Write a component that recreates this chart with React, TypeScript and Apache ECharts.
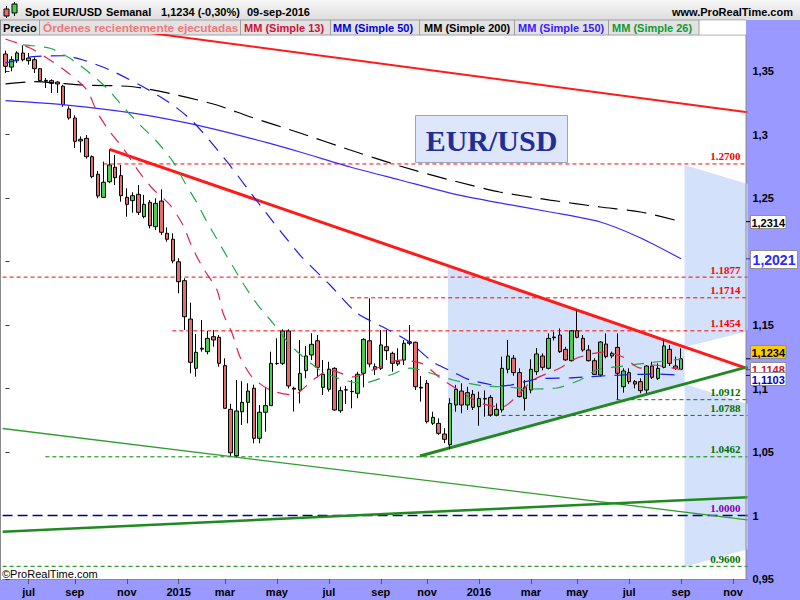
import React, { useEffect, useRef } from 'react';
import * as echarts from 'echarts';

// ---------- DATA ----------
const FIRST_MONDAY = Date.UTC(2014, 5, 9); // weekly bars dated by Monday
const WEEK_COUNT = 129; // visible weekly slots (incl. empty future)
const monthShort = ['ene', 'feb', 'mar', 'abr', 'may', 'jun', 'jul', 'ago', 'sep', 'oct', 'nov', 'dic'];
const yTicks = { min: 0.95, max: 1.37835, step: 0.05 };
const hiddenYLabels = [1.2]; // covered by the 1,2021 tag in the original

// [open, close, low, high]
const candles: number[][] = [
  [1.3634, 1.3537, 1.3484, 1.3660], [1.3531, 1.3589, 1.3498, 1.3616], [1.3581, 1.3642, 1.3563, 1.3655],
  [1.3642, 1.3589, 1.3576, 1.3702], [1.3581, 1.3602, 1.3550, 1.3642], [1.3589, 1.3518, 1.3484, 1.3608],
  [1.3518, 1.3424, 1.3419, 1.3524], [1.3426, 1.3420, 1.3366, 1.3445], [1.3424, 1.3403, 1.3327, 1.3435],
  [1.3413, 1.3398, 1.3327, 1.3419], [1.3380, 1.3235, 1.3217, 1.3392], [1.3201, 1.3130, 1.3117, 1.3222],
  [1.3130, 1.2946, 1.2894, 1.3151], [1.2949, 1.2962, 1.2858, 1.2985], [1.2970, 1.2825, 1.2810, 1.2996],
  [1.2825, 1.2668, 1.2655, 1.2835], [1.2687, 1.2516, 1.2498, 1.2713], [1.2505, 1.2624, 1.2501, 1.2786],
  [1.2628, 1.2760, 1.2616, 1.2883], [1.2742, 1.2660, 1.2602, 1.2839], [1.2676, 1.2518, 1.2471, 1.2760],
  [1.2505, 1.2450, 1.2353, 1.2576], [1.2479, 1.2518, 1.2384, 1.2545], [1.2529, 1.2387, 1.2366, 1.2602],
  [1.2353, 1.2450, 1.2340, 1.2524], [1.2466, 1.2282, 1.2261, 1.2484], [1.2274, 1.2458, 1.2248, 1.2498],
  [1.2476, 1.2230, 1.2209, 1.2569], [1.2222, 1.2175, 1.2156, 1.2269], [1.2175, 1.2004, 1.1986, 1.2222],
  [1.1998, 1.1841, 1.1750, 1.2025], [1.1849, 1.1565, 1.1461, 1.1868], [1.1547, 1.1206, 1.1119, 1.1676],
  [1.1159, 1.1285, 1.1093, 1.1429], [1.1310, 1.1317, 1.1290, 1.1539], [1.1290, 1.1395, 1.1269, 1.1453],
  [1.1408, 1.1382, 1.1329, 1.1461], [1.1403, 1.1198, 1.1172, 1.1421], [1.1180, 1.0844, 1.0840, 1.1238],
  [1.0836, 1.0494, 1.0468, 1.0880], [1.0471, 1.0823, 1.0463, 1.1067], [1.0817, 1.0891, 1.0713, 1.1057],
  [1.0891, 1.0980, 1.0726, 1.1041], [1.1002, 1.0608, 1.0569, 1.1030], [1.0608, 1.0813, 1.0569, 1.0870],
  [1.0813, 1.0865, 1.0660, 1.1002], [1.0865, 1.1198, 1.0862, 1.1290], [1.1198, 1.1196, 1.1185, 1.1395],
  [1.1198, 1.1453, 1.1185, 1.1466], [1.1453, 1.1020, 1.1000, 1.1466], [1.1002, 1.0995, 1.0818, 1.1014],
  [1.0988, 1.1119, 1.0883, 1.1382], [1.1141, 1.1256, 1.1080, 1.1335], [1.1264, 1.1348, 1.1224, 1.1435],
  [1.1376, 1.1167, 1.1088, 1.1421], [1.1009, 1.1112, 1.0949, 1.1224], [1.0994, 1.1152, 1.0975, 1.1211],
  [1.1159, 1.0831, 1.0825, 1.1167], [1.0825, 1.0983, 1.0809, 1.1014], [1.0990, 1.0988, 1.0878, 1.1020],
  [1.0977, 1.0975, 1.0844, 1.1067], [1.0962, 1.1112, 1.0923, 1.1132], [1.1120, 1.1387, 1.1009, 1.1395],
  [1.1376, 1.1193, 1.1167, 1.1710], [1.1172, 1.1151, 1.1106, 1.1198], [1.1159, 1.1343, 1.1146, 1.1461],
  [1.1329, 1.1298, 1.1224, 1.1461], [1.1277, 1.1198, 1.1132, 1.1290], [1.1193, 1.1214, 1.1177, 1.1317],
  [1.1224, 1.1356, 1.1185, 1.1382], [1.1368, 1.1356, 1.1340, 1.1500], [1.1364, 1.1014, 1.0988, 1.1368],
  [1.1010, 1.1004, 1.0896, 1.1098], [1.1041, 1.0739, 1.0725, 1.1067], [1.0726, 1.0773, 1.0713, 1.0817],
  [1.0726, 1.0647, 1.0635, 1.0765], [1.0642, 1.0600, 1.0570, 1.0687], [1.0558, 1.0882, 1.0524, 1.0923],
  [1.0870, 1.0994, 1.0817, 1.1028], [1.0980, 1.0870, 1.0805, 1.1041], [1.0870, 1.0967, 1.0831, 1.1014],
  [1.0954, 1.0852, 1.0831, 1.0988], [1.0857, 1.0922, 1.0707, 1.0975], [1.0922, 1.0917, 1.0778, 1.0985],
  [1.0930, 1.0791, 1.0778, 1.0948], [1.0791, 1.0836, 1.0781, 1.0883], [1.0831, 1.1159, 1.0810, 1.1251],
  [1.1151, 1.1256, 1.1120, 1.1383], [1.1238, 1.1125, 1.1100, 1.1264], [1.1125, 1.0936, 1.0930, 1.1159],
  [1.0922, 1.1009, 1.0826, 1.1067], [1.0988, 1.1151, 1.0962, 1.1230], [1.1133, 1.1272, 1.1106, 1.1318],
  [1.1256, 1.1167, 1.1144, 1.1277], [1.1159, 1.1395, 1.1151, 1.1434], [1.1405, 1.1400, 1.1378, 1.1447],
  [1.1421, 1.1290, 1.1280, 1.1473], [1.1308, 1.1225, 1.1219, 1.1329], [1.1219, 1.1455, 1.1213, 1.1460],
  [1.1455, 1.1403, 1.1395, 1.1613], [1.1395, 1.1303, 1.1290, 1.1421], [1.1303, 1.1219, 1.1213, 1.1342],
  [1.1219, 1.1111, 1.1106, 1.1238], [1.1106, 1.1366, 1.1093, 1.1374], [1.1350, 1.1251, 1.1238, 1.1434],
  [1.1256, 1.1277, 1.1238, 1.1290], [1.1324, 1.1120, 1.0914, 1.1434], [1.1014, 1.1138, 1.0967, 1.1159],
  [1.1125, 1.1054, 1.1035, 1.1159], [1.1054, 1.1035, 1.1001, 1.1067], [1.1054, 1.0983, 1.0962, 1.1080],
  [1.0988, 1.1177, 1.0962, 1.1185], [1.1177, 1.1088, 1.1075, 1.1211], [1.1080, 1.1159, 1.1067, 1.1198],
  [1.1167, 1.1335, 1.1159, 1.1383], [1.1308, 1.1198, 1.1177, 1.1342], [1.1177, 1.1159, 1.1146, 1.1251],
  [1.1151, 1.1234, 1.1146, 1.1316],
];

// moving averages: [week index, value]
const ma13: number[][] = [
  [0, 1.3752], [4.25, 1.3681], [7.71, 1.3587], [10.65, 1.3492], [14.12, 1.335], [15.85, 1.3177], [18.1, 1.302],
  [20.35, 1.2894], [22.78, 1.2728], [25.37, 1.2579], [28.49, 1.2445], [30.74, 1.2287], [32.3, 1.2114],
  [34.21, 1.1949], [36.63, 1.1776], [37.67, 1.1594], [39.23, 1.1437], [40.62, 1.1248], [42.69, 1.1091],
  [45.81, 1.0988], [49.79, 1.0949], [53.26, 1.1067], [56.2, 1.1146], [60.18, 1.1091], [64.34, 1.1161],
  [68.33, 1.1224], [72.31, 1.1193], [75.25, 1.1083], [79.24, 1.0965], [82.18, 1.0886], [85.99, 1.0854],
  [89.11, 1.0965], [91.36, 1.1067], [96.04, 1.1161], [98.98, 1.124], [103.49, 1.1287], [106.95, 1.1248],
  [109.89, 1.1161], [112.14, 1.1185], [115.6, 1.1161], [117, 1.1148],
];
const ma26: number[][] = [
  [3.03, 1.3705], [7.71, 1.3679], [11.17, 1.36], [14.64, 1.3482], [17.58, 1.3364], [20.35, 1.3219],
  [23.3, 1.3075], [26.24, 1.2943], [29.01, 1.2786], [31.09, 1.2618], [33.17, 1.2461], [34.9, 1.2311],
  [41.1, 1.1831], [43.7, 1.1657], [46.3, 1.1516], [49.3, 1.1343], [52.2, 1.1224], [55, 1.113],
  [58.5, 1.1067], [61.9, 1.1043], [66.6, 1.1106], [70.1, 1.1161], [74.7, 1.1106], [77.5, 1.1067],
  [82.7, 1.102], [86.9, 1.1012], [90.8, 1.0996], [95.5, 1.1004], [99.5, 1.1067], [102.4, 1.1146],
  [107, 1.1177], [111.1, 1.1201], [115.6, 1.1224], [117, 1.1232],
];
const ma50: number[][] = [
  [0, 1.3563], [4.77, 1.3613], [9.96, 1.362], [13.42, 1.3587], [18.1, 1.3508], [23.82, 1.3376],
  [28.49, 1.3248], [32.47, 1.3101], [38.36, 1.2786], [41.83, 1.2579], [45.81, 1.2343], [51.01, 1.2051],
  [56.2, 1.1815], [60.88, 1.1594], [65.38, 1.1484], [69.71, 1.1374], [74.04, 1.1209], [77.5, 1.113],
  [80.45, 1.1067], [86.16, 1.102], [92.05, 1.1075], [97.77, 1.1083], [102.96, 1.1098], [106.43, 1.1106],
  [112.14, 1.1114], [116.3, 1.1106], [117, 1.1103],
];
const ma150: number[][] = [
  [0, 1.3266], [10.65, 1.3232], [22.08, 1.3169], [31.4, 1.3091], [42.3, 1.2972], [51, 1.2862],
  [59.7, 1.2744], [68.3, 1.2642], [77, 1.2539], [85.6, 1.2461], [94.3, 1.239], [103, 1.2311],
  [110, 1.2185], [117, 1.2021],
];
const ma200: number[][] = [
  [0, 1.3398], [4.77, 1.3416], [13.42, 1.339], [22.08, 1.3376], [29.7, 1.3311], [36.6, 1.3232],
  [42.3, 1.314], [51, 1.3012], [59.7, 1.2878], [68.3, 1.2752], [77, 1.2642], [85.6, 1.2547],
  [94.3, 1.2484], [103, 1.2429], [110, 1.239], [117, 1.2314],
];

// trend lines: [week index, price] endpoints
const trendRedMain = [[18.05, 1.2883], [128.5, 1.1156]];
const trendRedTop = [[15, 1.386], [128.5, 1.3175]];
const trendGreenMain = [[71.78, 1.0469], [128.5, 1.117]];
const trendGreenThin = [[-0.5, 1.0685], [128.5, 0.9966]];
const trendGreenLow = [[-0.5, 0.9873], [128.5, 1.0144]];

// shaded zones (polygons, [week index, price])
const shadeTriangle = [[76.62, 1.1967], [117.6, 1.1326], [117.6, 1.1036], [76.62, 1.0529]];
const shadeUpper = [[117.6, 1.276], [128.5, 1.2611], [128.5, 1.1451], [117.6, 1.1326]];
const shadeLower = [[117.6, 1.1036], [128.5, 1.0878], [128.5, 0.9735], [117.6, 0.9594]];

// horizontal levels
const levelValues = [1.2768, 1.1877, 1.1714, 1.1454, 1.0912, 1.0788, 1.0462, 1.0, 0.96];
const levelStarts = [16.96, -0.5, 59.7, 28.9, 105.8, 83.5, 6.9, -0.5, -0.5];
const levelLabels = ['1.2700', '1.1877', '1.1714', '1.1454', '1.0912', '1.0788', '1.0462', '1.0000', '0.9600'];
const levelLineColors = ['#ff0000', '#ff0000', '#ff0000', '#ff0000', '#008000', '#008000', '#008000', '#000080', '#008000'];
const levelTextColors = ['#ff0000', '#ff0000', '#ff0000', '#ff0000', '#007000', '#007000', '#007000', '#8000b0', '#007000'];

// right axis tags
const tagValues = [1.2314, 1.2021, 1.1148, 1.1234, 1.1103];
const tagTextColors = ['#000000', '#2a2aff', '#cc1133', '#000000', '#0000cc'];
const tagFills = ['#ffffff', '#ffffff', '#ffffff', '#ffcc00', '#ffffff'];
const tagOffsets = [0, 0, -1, -7.5, 3.5];

const legendItems = ['Precio', 'Órdenes recientemente ejecutadas', 'MM (Simple 13)', 'MM (Simple 50)', 'MM (Simple 200)', 'MM (Simple 150)', 'MM (Simple 26)'];
const legendColors = ['#000000', '#f07878', '#d0103a', '#0000dd', '#000000', '#3a1aff', '#119933'];

// ---------- helpers ----------
const weekDates: string[] = Array.from({ length: WEEK_COUNT }, (_, i) =>
  new Date(FIRST_MONDAY + i * 7 * 86400000).toISOString().slice(0, 10)
);
const isLabelWeek = (idx: number) => {
  const d = new Date(weekDates[idx] + 'T00:00:00Z');
  return d.getUTCDate() <= 7 && d.getUTCMonth() % 2 === 0;
};
const SANS = '"Liberation Sans", Arial, sans-serif';
const SERIF = '"Liberation Serif", "Times New Roman", serif';

function buildOption(): any {
  const xVal = 1;
  const maLine = (name: string, data: number[][], color: string, dash: any, z: number) => ({
    name, type: 'line', xAxisIndex: xVal, yAxisIndex: 0, data, symbol: 'none', smooth: 0.25,
    lineStyle: { color, width: 1.2, type: dash }, z, silent: true, clip: true,
  });
  const trend = (data: number[][], color: string, width: number) => ({
    type: 'line', xAxisIndex: xVal, yAxisIndex: 0, data, symbol: 'none',
    lineStyle: { color, width }, z: 3, silent: true, clip: true,
  });
  const shades = [shadeTriangle, shadeUpper, shadeLower];
  return {
    animation: false,
    backgroundColor: '#ffffff',
    grid: { left: 2.6, right: 52.5, top: 35, bottom: 21, containLabel: false },
    xAxis: [
      {
        type: 'category', data: weekDates, boundaryGap: true, position: 'bottom',
        axisLine: { show: true, lineStyle: { color: '#8a8a8a' } },
        axisTick: { show: true, alignWithLabel: true, interval: (i: number) => isLabelWeek(i), length: 5, lineStyle: { color: '#555' } },
        axisLabel: {
          interval: (i: number) => isLabelWeek(i), margin: 7, color: '#000', fontWeight: 'bold', fontSize: 11, fontFamily: SANS,
          formatter: (v: string) => {
            const d = new Date(v + 'T00:00:00Z');
            return d.getUTCMonth() === 0 ? String(d.getUTCFullYear()) : monthShort[d.getUTCMonth()];
          },
        },
        splitLine: { show: false },
      },
      { type: 'value', min: -0.5, max: WEEK_COUNT - 0.5, show: false },
    ],
    yAxis: [{
      type: 'value', position: 'right', min: yTicks.min, max: yTicks.max, interval: yTicks.step, scale: true,
      axisLine: { show: false },
      axisTick: { show: true, length: 4, lineStyle: { color: '#333' } },
      splitLine: { show: false },
      axisLabel: {
        showMaxLabel: false, margin: 5, color: '#000', fontWeight: 'bold', fontSize: 11, fontFamily: SANS,
        formatter: (v: number) => {
          const r = Math.round(v * 100) / 100;
          if (hiddenYLabels.some((h) => Math.abs(h - r) < 1e-6)) return '';
          return r.toString().replace('.', ',');
        },
      },
    }],
    series: [
      {
        type: 'custom', xAxisIndex: xVal, yAxisIndex: 0, z: 1, silent: true, clip: true,
        data: shades.map((_, k) => [k, 1.1]),
        renderItem: (params: any, api: any) => {
          const poly = shades[api.value(0)];
          return { type: 'polygon', shape: { points: poly.map((p) => api.coord(p)) }, style: { fill: '#d3e1fa' } };
        },
      },
      {
        type: 'custom', xAxisIndex: xVal, yAxisIndex: 0, z: 2, silent: true,
        data: levelValues.map((v, k) => [levelStarts[k], v, k]),
        renderItem: (params: any, api: any) => {
          const k = api.value(2);
          const p0 = api.coord([api.value(0), api.value(1)]);
          const cs = params.coordSys;
          const xEnd = cs.x + cs.width;
          const navy = k === 7;
          return {
            type: 'group', children: [
              { type: 'line', shape: { x1: p0[0], y1: p0[1], x2: xEnd, y2: p0[1] },
                style: { stroke: levelLineColors[k], lineWidth: navy ? 1.4 : 1, lineDash: navy ? [10, 5] : [4, 3] } },
              { type: 'text', x: xEnd - 7, y: p0[1] - 2,
                style: { text: levelLabels[k], align: 'right', verticalAlign: 'bottom', fill: levelTextColors[k], font: `bold 11px ${SERIF}` } },
            ],
          };
        },
      },
      trend(trendGreenThin, '#2e9e2e', 1.3),
      trend(trendGreenLow, '#1f8a1f', 2.5),
      trend(trendRedTop, '#ff1a1a', 2),
      trend(trendRedMain, '#ff1a1a', 3),
      trend(trendGreenMain, '#228822', 3),
      {
        type: 'candlestick', xAxisIndex: 0, yAxisIndex: 0, data: candles, barWidth: 4, z: 4, silent: true,
        itemStyle: { color: '#4ccc4c', color0: '#e36d6d', borderColor: '#000', borderColor0: '#000', borderWidth: 1 },
      },
      maLine('MM 200', ma200, '#000000', [20, 9], 5),
      maLine('MM 150', ma150, '#3a2aff', 'solid', 5),
      maLine('MM 50', ma50, '#1a1aee', [14, 9], 5),
      maLine('MM 26', ma26, '#22aa44', [12, 9], 5),
      maLine('MM 13', ma13, '#dd2255', [12, 9], 5),
    ],
  };
}

function buildGraphic(chart: any): any[] {
  const yPix = (v: number) => chart.convertToPixel({ yAxisIndex: 0 }, v) as number;
  const els: any[] = [];
  // backgrounds
  els.push({ type: 'rect', z: -1, shape: { x: 0, y: 0, width: 800, height: 20 },
    style: { fill: { type: 'linear', x: 0, y: 0, x2: 0, y2: 1, colorStops: [{ offset: 0, color: '#f7f7f7' }, { offset: 1, color: '#dcdcdc' }] } } });
  els.push({ type: 'rect', z: -1, shape: { x: 0, y: 20, width: 746, height: 15 }, style: { fill: '#e2e2e2', stroke: '#a0a0a0', lineWidth: 1 } });
  els.push({ type: 'rect', z: -1, shape: { x: 699, y: 20.5, width: 47, height: 14 }, style: { fill: '#ffffff' } });
  els.push({ type: 'rect', z: -1, shape: { x: 746, y: 20, width: 54, height: 580 }, style: { fill: '#9999ff' } });
  els.push({ type: 'rect', z: -1, shape: { x: 0, y: 580, width: 800, height: 20 }, style: { fill: '#9999ff' } });
  els.push({ type: 'line', z: 10, shape: { x1: 0.5, y1: 20, x2: 0.5, y2: 580 }, style: { stroke: '#8a8a8a', lineWidth: 1 } });
  els.push({ type: 'line', z: 10, shape: { x1: 746, y1: 35, x2: 746, y2: 580 }, style: { stroke: '#8a8a8a', lineWidth: 1 } });
  // legend separators
  [39.5, 240.5, 330.5, 419.5, 514.5, 608.5, 699].forEach((x) =>
    els.push({ type: 'line', z: 10, shape: { x1: x, y1: 20, x2: x, y2: 35 }, style: { stroke: '#a0a0a0', lineWidth: 1 } }));
  const legendX = [3, 43, 244, 333, 424, 518, 612];
  legendItems.forEach((t, k) =>
    els.push({ type: 'text', z: 10, x: legendX[k], y: 28, style: { text: t, fill: legendColors[k], font: `bold ${k === 1 ? 11.8 : 11}px ${SANS}`, verticalAlign: 'middle' } }));
  // header icon
  els.push({ type: 'line', z: 10, shape: { x1: 6.5, y1: 6, x2: 6.5, y2: 18 }, style: { stroke: '#000', lineWidth: 1 } });
  els.push({ type: 'rect', z: 10, shape: { x: 4, y: 9, width: 5, height: 7 }, style: { fill: '#e36d6d', stroke: '#000', lineWidth: 1 } });
  els.push({ type: 'line', z: 10, shape: { x1: 14.5, y1: 2, x2: 14.5, y2: 16 }, style: { stroke: '#000', lineWidth: 1 } });
  els.push({ type: 'rect', z: 10, shape: { x: 12, y: 4, width: 5, height: 9 }, style: { fill: '#4ccc4c', stroke: '#000', lineWidth: 1 } });
  const hdr = [['Spot EUR/USD', 25], ['Semanal', 106], ['1,1234 (-0,30%)', 161], ['09-sep-2016', 247]];
  hdr.forEach(([t, x]) =>
    els.push({ type: 'text', z: 10, x, y: 11.5, style: { text: t, fill: '#000', font: `bold 11px ${SANS}`, verticalAlign: 'middle' } }));
  els.push({ type: 'text', z: 10, x: 793, y: 12, style: { text: 'www.ProRealTime.com', fill: '#000', font: `bold 11px ${SANS}`, align: 'right', verticalAlign: 'middle' } });
  // copyright
  els.push({ type: 'text', z: 10, x: 2, y: 574, style: { text: '©ProRealTime.com', fill: '#000', font: `11px ${SANS}`, verticalAlign: 'middle' } });
  // title box
  els.push({ type: 'rect', z: 10, shape: { x: 415.5, y: 115.5, width: 152, height: 47 }, style: { fill: '#dde6fb', stroke: '#9aa3c0', lineWidth: 1 } });
  els.push({ type: 'text', z: 11, x: 491.5, y: 140, style: { text: 'EUR/USD', fill: '#1f2f99', font: `bold 30px ${SERIF}`, align: 'center', verticalAlign: 'middle' } });
  // right-axis tags
  tagValues.forEach((v, k) => {
    const y = yPix(v);
    const big = k === 1;
    const h = big ? 18 : 13;
    const w = big ? 47 : 35.5;
    const cy = y + tagOffsets[k];
    els.push({ type: 'line', z: 20, shape: { x1: 746, y1: y, x2: 751, y2: y }, style: { stroke: tagTextColors[k], lineWidth: 1 } });
    els.push({ type: 'rect', z: 20 + k, shape: { x: 750.5, y: Math.round(cy - h / 2) + 0.5, width: w, height: h },
      style: { fill: tagFills[k], stroke: '#909090', lineWidth: 1 } });
    els.push({ type: 'text', z: 20 + k, x: 750.5 + w / 2, y: Math.round(cy - h / 2) + 0.5 + h / 2 + 0.5,
      style: { text: v.toFixed(4).replace('.', ','), fill: tagTextColors[k], font: `bold ${big ? 14 : 11}px ${SANS}`, align: 'center', verticalAlign: 'middle' } });
  });
  return els;
}

export default function App() {
  const ref = useRef<HTMLDivElement>(null);
  useEffect(() => {
    if (!ref.current) return;
    const chart = echarts.init(ref.current, null, { renderer: 'svg' });
    chart.setOption(buildOption());
    chart.setOption({ graphic: buildGraphic(chart) });
    return () => chart.dispose();
  }, []);
  return <div ref={ref} style={{ position: 'fixed', left: 0, top: 0, width: 800, height: 600 }} />;
}
